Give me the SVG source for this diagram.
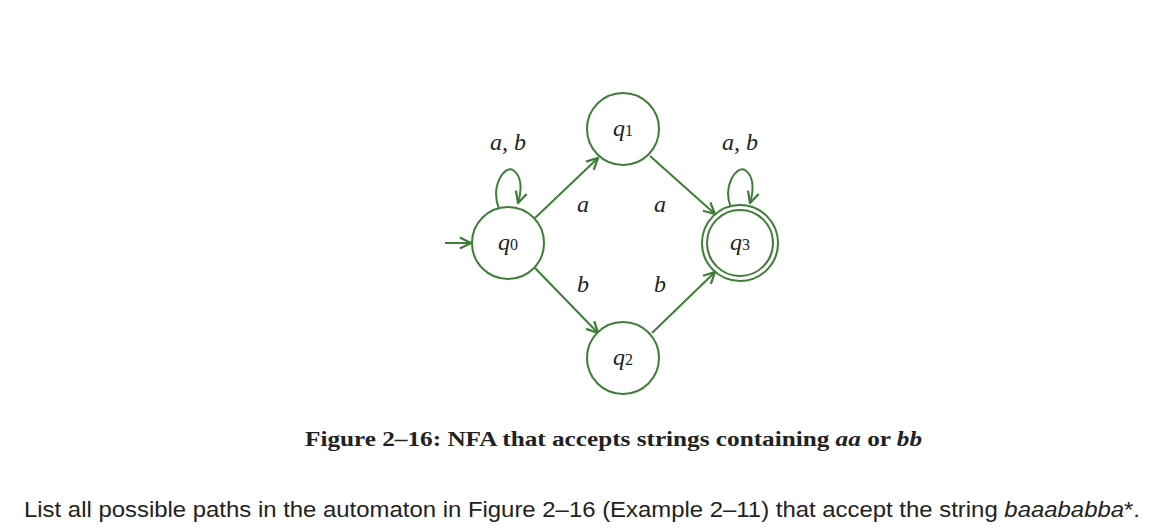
<svg xmlns="http://www.w3.org/2000/svg" width="1152" height="530" viewBox="0 0 1152 530">
<style>
.st{fill:#fff;stroke:#3d7d37;stroke-width:2}
.e{fill:none;stroke:#3d7d37;stroke-width:2}
.m{font-family:"Liberation Serif",serif;font-style:italic;font-size:24px;fill:#222;text-anchor:middle}
.sub{font-style:normal;font-size:16px}
</style>
<defs><marker id="ar" viewBox="0 0 10 10" refX="9" refY="5" markerWidth="7" markerHeight="7" orient="auto"><path d="M1,1 L9,5 L1,9" fill="none" stroke="#3d7d37" stroke-width="1.6"/></marker></defs>
<rect width="1152" height="530" fill="#fff"/>
<g id="connectors">
<line class="e" x1="445" y1="243" x2="471" y2="243" marker-end="url(#ar)"/>
<line class="e" x1="535" y1="218" x2="598" y2="158" marker-end="url(#ar)"/>
<line class="e" x1="650" y1="156" x2="715" y2="214" marker-end="url(#ar)"/>
<line class="e" x1="535" y1="268" x2="598" y2="333" marker-end="url(#ar)"/>
<line class="e" x1="652" y1="333" x2="715" y2="272" marker-end="url(#ar)"/>
<path class="e" d="M499,209 C490,185 505,165 513,170 C522,176 522,190 518,203" marker-end="url(#ar)"/>
<path class="e" d="M731,208 C722,185 737,165 745,170 C754,176 754,190 750,203" marker-end="url(#ar)"/>
<text class="m" x="508" y="150">a, b</text>
<text class="m" x="740" y="150">a, b</text>
<text class="m" x="583" y="212">a</text>
<text class="m" x="660" y="212">a</text>
<text class="m" x="583" y="292">b</text>
<text class="m" x="660" y="292">b</text>
</g>
<g id="q0"><circle class="st" cx="508" cy="243" r="36"/><text class="m" x="508" y="250">q<tspan class="sub">0</tspan></text></g>
<g id="q1"><circle class="st" cx="623" cy="129" r="36"/><text class="m" x="623" y="136">q<tspan class="sub">1</tspan></text></g>
<g id="q2"><circle class="st" cx="623" cy="358" r="36"/><text class="m" x="623" y="365">q<tspan class="sub">2</tspan></text></g>
<g id="q3"><circle class="st" cx="740" cy="243" r="38"/><circle class="e" cx="740" cy="243" r="33"/><text class="m" x="740" y="250">q<tspan class="sub">3</tspan></text></g>
<text x="305" y="446" textLength="617" lengthAdjust="spacingAndGlyphs" font-family="Liberation Serif,serif" font-weight="bold" font-size="22" fill="#222">Figure 2–16: NFA that accepts strings containing <tspan font-style="italic">aa</tspan> or <tspan font-style="italic">bb</tspan></text>
<text x="24" y="517" textLength="1116" lengthAdjust="spacingAndGlyphs" font-family="Liberation Sans,sans-serif" font-size="22" fill="#222">List all possible paths in the automaton in Figure 2–16 (Example 2–11) that accept the string <tspan font-style="italic">baaababba</tspan>*.</text>
</svg>
